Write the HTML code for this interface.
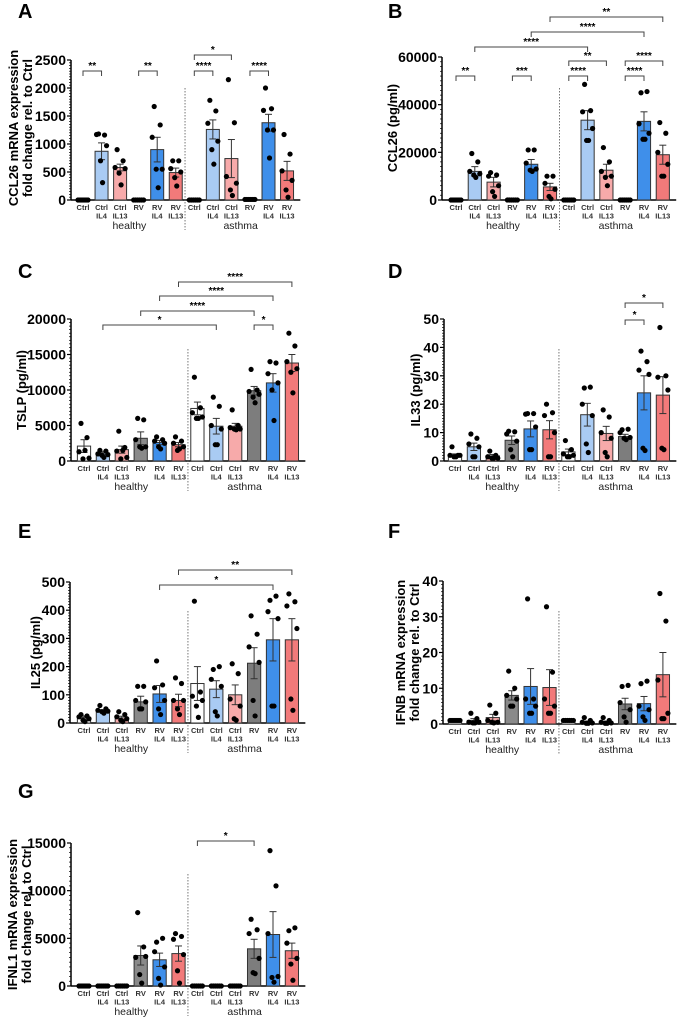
<!DOCTYPE html>
<html><head><meta charset="utf-8"><style>
body{margin:0;background:#fff}
svg{display:block;font-family:"Liberation Sans",Arial,sans-serif}
</style></head><body>
<svg id="fig" width="680" height="1018" viewBox="0 0 680 1018"></svg>
<script>
const categories=[["Ctrl"],["Ctrl","IL4"],["Ctrl","IL13"],["RV"],["RV","IL4"],["RV","IL13"],["Ctrl"],["Ctrl","IL4"],["Ctrl","IL13"],["RV"],["RV","IL4"],["RV","IL13"]];
const groups=["healthy","asthma"];
const colors=["#ffffff","#a9cbf3","#f7aaaa","#8a8a8a","#3f8fea","#f27a7a","#ffffff","#a9cbf3","#f7aaaa","#7d7d7d","#3f8fea","#f27a7a"];

const meanA=[0,870,580,0,900,490,0,1260,740,0,1380,520];
const semA=[0,150,60,0,220,80,0,170,340,0,150,170];
const dotsA=[[0,0,0,0,0,0],[1180,1160,1170,970,700,310],[900,700,580,560,480,270],[0,0,0,0,0,0],[1670,1340,1120,550,550,220],[700,700,560,500,400,250],[0,0,0,0,0,0],[1780,1590,1370,1050,900,640],[2150,1380,420,300,180,80],[10,10,10,10,10,10],[2000,1630,1600,1250,1250,750],[1170,820,520,350,180,50]];
const ticksA=[0,500,1000,1500,2000,2500];

const meanB=[0,12000,7500,0,15000,5500,0,33500,12500,0,33000,19000];
const semB=[0,2000,2000,0,2000,1500,0,4000,2500,0,4000,4000];
const dotsB=[[0,0,0,0,0,0],[19500,16000,12000,11000,10500,9500],[11500,10500,10000,6000,3500,1500],[0,0,0,0,0,0],[21000,21000,15500,13000,12500,12000],[10000,10000,7000,4500,1500,500],[0,0,0,0,0,0],[48500,37500,37000,30000,25000,25000],[22000,16000,12000,10000,9500,6000],[0,0,0,0,0,0],[45000,45500,32000,28000,25500,25500],[32500,28000,20000,15000,10000,10000]];
const ticksB=[0,20000,40000,60000];

const meanC=[2100,1100,1600,3200,2600,2300,7400,4900,4900,9900,11000,13800];
const semC=[900,200,500,900,300,300,900,1100,400,600,1300,1200];
const dotsC=[[5300,3300,1300,400,300,1500],[1500,1400,1000,900,800,500],[4200,1900,1400,500,300,1500],[6000,5800,3000,2000,2000,1800],[3400,3000,2800,2500,2000,1700],[3400,2800,2500,2000,1500,1700],[11800,7500,6800,6200,6000,6000],[9000,7700,5000,4500,2300,2300],[7200,5000,4700,4500,4500,4400],[12900,10000,9800,9400,9000,8200],[14000,13800,12300,11000,10000,5700],[18000,16200,14000,13000,12500,9600]];
const ticksC=[0,5000,10000,15000,20000];

const meanD=[2,5,1.8,7.3,11.3,11,3.2,16.3,9.7,8.6,24,23.2];
const semD=[0.5,1.3,0.5,1.5,2.8,3.2,1,4,2.5,0.8,6,6.5];
const dotsD=[[5,2,2,2,1.5,1.5],[9.5,8,6,5,1.5,1.5],[3.5,2,1.5,1,1,1],[10.5,10.3,9.5,7,4,1.5],[16.7,16.7,16.5,12,4,4],[20,17,16,10,1.5,1.5],[7.2,4,2.5,2,1.5,1.5],[25.7,26,20,16,6,3],[18,15.5,10,8,3,1.5],[11,11.2,10,8.3,8,7.5],[38.7,35,32,30.5,4.5,3.7],[47,30,29.5,25,4.5,4]];
const ticksD=[0,10,20,30,40,50];

const meanE=[20,42,18,75,103,80,140,120,100,212,295,295];
const semE=[5,5,6,20,30,22,60,30,35,55,75,75];
const dotsE=[[30,25,22,15,10,5],[62,50,45,42,40,35],[40,30,22,15,10,5],[130,130,80,75,50,50],[220,135,125,80,50,30],[160,140,80,80,50,30],[432,110,95,80,60,20],[190,200,155,130,40,25],[210,175,85,60,15,10],[380,315,270,215,80,25],[435,450,395,370,60,60],[458,430,415,335,85,45]];
const ticksE=[0,100,200,300,400,500];

const meanF=[1,1,1.8,8,10.5,10.2,1,0.5,0.5,5.6,5.7,13.8];
const semF=[0.1,0.5,0.9,1.3,5,5,0.1,0.3,0.3,1.6,2,6.2];
const dotsF=[[1,1,1,1,1,1],[3,1.5,0.5,0.5,0.3,0.3],[5.3,3,1,0.5,0.5,0.3],[14.8,10,8,7,5,5],[35,7,7,5,3,3],[32.8,14.5,7,5,3,3],[1,1,1,1,1,1],[1.8,1,0.5,0.3,0.2,0.2],[1.8,1,0.5,0.3,0.2,0.2],[10.5,10.8,6,4,2,0.5],[11.3,12,5,4,2,1],[36.5,28.8,12.3,3,1.5,1.5]];
const ticksF=[0,10,20,30,40];

const meanG=[0,0,0,3200,2750,3400,0,0,0,3900,5400,3700];
const semG=[0,0,0,1000,700,800,0,0,0,1000,2400,800];
const dotsG=[[0,0,0,0,0,0],[0,0,0,0,0,0],[0,0,0,0,0,0],[7700,4100,3000,3100,1200,300],[4600,5000,3600,2000,800,100],[5500,5200,4900,3300,1600,300],[0,0,0,0,0,0],[0,0,0,0,0,0],[0,0,0,0,0,0],[7000,5900,5500,2900,1400,1300],[14200,10500,5500,1000,900,400],[5800,6100,4500,2900,2300,600]];
const ticksG=[0,5000,10000,15000];

const sigA=[[0,1,"**",71],[3,4,"**",71],[6,7,"****",71],[6,8,"*",55],[9,10,"****",71]];
const sigB=[[0,1,"**",76],[3,4,"***",76],[6,7,"****",76],[6,8,"**",61],[9,10,"****",76],[9,11,"****",61],[1,7,"****",47],[4,10,"****",32],[5,11,"**",17]];
const sigC=[[1,7,"*",325],[9,10,"*",325],[3,9,"****",311],[4,10,"****",296],[5,11,"****",282]];
const sigD=[[9,10,"*",320],[9,11,"*",303]];
const sigE=[[4,10,"*",585],[5,11,"**",570]];
const sigF=[];
const sigG=[[6,9,"*",841]];

const NS="http://www.w3.org/2000/svg";
const svg=document.getElementById('fig');
function mk(tag,attrs,parent,txt){const e=document.createElementNS(NS,tag);for(const k in attrs)e.setAttribute(k,attrs[k]);if(txt!==undefined)e.textContent=txt;(parent||svg).appendChild(e);return e;}
const jit=[-3,3,-5,5,-1,1];

function panel(p){
  const g=mk('g',{});
  
  
  const ymax=p.ticks[p.ticks.length-1];
  const ys=v=>p.y0-(v/ymax)*(p.y0-p.ytop);
  const xs=i=>p.bx0+i*p.step;
  const L=mk('text',{x:p.lx,y:p.ly,'font-size':20,'font-weight':'bold'},g,p.letter);
  
  const tg=mk('text',{transform:`translate(${p.tx},${p.ty||(p.y0+p.ytop)/2}) rotate(-90)`,'text-anchor':'middle','font-size':13,'font-weight':'bold'},g);
  
  p.title.forEach((t,k)=>mk('tspan',{x:0,dy:k?14:0},tg,t));
  const ax=mk('line',{x1:p.ax,x2:p.ax,y1:p.ytop,y2:p.y0,stroke:'#000','stroke-width':1.5},g);
  
  const xend=xs(11)+p.step/2+4;
  const xa=mk('line',{x1:p.ax,x2:xend,y1:p.y0,y2:p.y0,stroke:'#000','stroke-width':1.5},g);
  
  p.ticks.forEach((t,k)=>{
    mk('line',{x1:p.ax-4,x2:p.ax,y1:ys(t),y2:ys(t),stroke:'#000','stroke-width':1.2},g);
    if(k<p.ticks.length-1){for(let m=1;m<10;m++){const v=t+(p.ticks[k+1]-t)*m/10;mk('line',{x1:p.ax-2,x2:p.ax,y1:ys(v),y2:ys(v),stroke:'#000','stroke-width':0.7},g);}}
    const tl=mk('text',{x:p.ax-5,y:ys(t)+5,'text-anchor':'end','font-size':14,'font-weight':'bold'},g,String(t));
    
  });
  const sx=(xs(5)+xs(6))/2;
  mk('line',{x1:sx,x2:sx,y1:p.sepTop,y2:p.y0+30,stroke:'#555','stroke-width':0.8,'stroke-dasharray':'1.5,1.5'},g);
  const bw=p.step*0.7;
  for(let i=0;i<12;i++){
    const x=xs(i),m=p.mean[i],s=p.sem[i];
    const b=mk('rect',{x:x-bw/2,y:ys(m),width:bw,height:Math.max(0,p.y0-ys(m)),fill:colors[i],stroke:'#333','stroke-width':1},g);
    
    
    if(s>0){
      mk('line',{x1:x,x2:x,y1:ys(m+s),y2:ys(Math.max(0,m-s)),stroke:'#333','stroke-width':1},g);
      mk('line',{x1:x-3.5,x2:x+3.5,y1:ys(m+s),y2:ys(m+s),stroke:'#333','stroke-width':1},g);
      mk('line',{x1:x-3.5,x2:x+3.5,y1:ys(Math.max(0,m-s)),y2:ys(Math.max(0,m-s)),stroke:'#333','stroke-width':1},g);
    }
    p.dots[i].forEach((v,k)=>{
      const d=mk('circle',{cx:x+jit[k],cy:ys(v),r:2.6,fill:'#000'},g);
      
    });
    categories[i].forEach((t,k)=>{
      const c=mk('text',{x:x,y:p.y0+10+k*8.5,'text-anchor':'middle','font-size':7.5,'font-weight':'bold',fill:'#333'},g,t);
      
    });
  }
  groups.forEach((gname,k)=>{
    const gx=(xs(k*6)+xs(k*6+5))/2;
    const gl=mk('text',{x:gx,y:p.y0+29,'text-anchor':'middle','font-size':10.5,fill:'#222'},g,gname);
    
  });
  p.sig.forEach(s=>{
    const x1=xs(s[0]),x2=xs(s[1]),y=s[3];
    const br=mk('path',{d:`M${x1},${y+5}V${y}H${x2}V${y+5}`,fill:'none',stroke:'#444','stroke-width':1},g);
    
    mk('text',{x:(x1+x2)/2,y:y-2,'text-anchor':'middle','font-size':10,'font-weight':'bold'},g,s[2]);
  });
}
panel({letter:'A',lx:18,ly:18,tx:18,ty:128,title:['CCL26 mRNA expression','fold change rel. to Ctrl'],ax:71,y0:200,ytop:60,bx0:83,step:18.55,sepTop:88,ticks:ticksA,mean:meanA,sem:semA,dots:dotsA,sig:sigA});
panel({letter:'B',lx:388,ly:18,tx:397,ty:128,title:['CCL26 (pg/ml)'],ax:442,y0:200,ytop:57,bx0:456,step:18.8,sepTop:88,ticks:ticksB,mean:meanB,sem:semB,dots:dotsB,sig:sigB});
panel({letter:'C',lx:18,ly:278,tx:26,title:['TSLP (pg/ml)'],ax:71,y0:461,ytop:319,bx0:84,step:18.9,sepTop:349,ticks:ticksC,mean:meanC,sem:semC,dots:dotsC,sig:sigC});
panel({letter:'D',lx:388,ly:278,tx:420,title:['IL33 (pg/ml)'],ax:444,y0:461,ytop:319,bx0:455,step:18.9,sepTop:349,ticks:ticksD,mean:meanD,sem:semD,dots:dotsD,sig:sigD});
panel({letter:'E',lx:18,ly:538,tx:40,title:['IL25 (pg/ml)'],ax:70,y0:723,ytop:582,bx0:84,step:18.9,sepTop:611,ticks:ticksE,mean:meanE,sem:semE,dots:dotsE,sig:sigE});
panel({letter:'F',lx:388,ly:538,tx:405,title:['IFNB mRNA expression','fold change rel. to Ctrl'],ax:443,y0:724,ytop:581,bx0:455,step:18.9,sepTop:611,ticks:ticksF,mean:meanF,sem:semF,dots:dotsF,sig:sigF});
panel({letter:'G',lx:18,ly:798,tx:17,title:['IFNL1 mRNA expression','fold change rel. to Ctrl'],ax:71,y0:986,ytop:843,bx0:84,step:18.9,sepTop:874,ticks:ticksG,mean:meanG,sem:semG,dots:dotsG,sig:sigG});
</script>
</body></html>
